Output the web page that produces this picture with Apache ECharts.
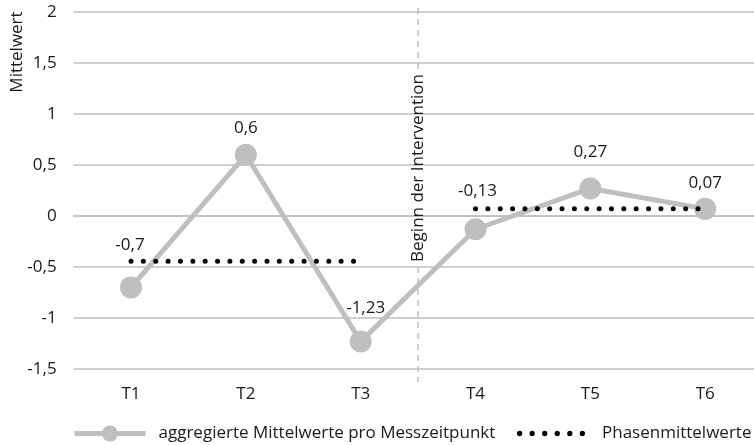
<!DOCTYPE html>
<html>
<head>
<meta charset="utf-8">
<script src="https://cdn.jsdelivr.net/npm/echarts@6/dist/echarts.min.js"></script>
<style>html,body{margin:0;padding:0;background:#fff}#c{width:754px;height:445px}</style>
</head>
<body>
<div id="c"></div>
<script>
const categories = ['T1', 'T2', 'T3', 'T4', 'T5', 'T6'];
const values = [-0.7, 0.6, -1.23, -0.13, 0.27, 0.07];
const phase1 = [-0.443, -0.443, -0.443, null, null, null];
const phase2 = [null, null, null, 0.07, 0.07, 0.07];
const yTicks = { min: -1.5, max: 2, interval: 0.5 };
const seriesNames = ['aggregierte Mittelwerte pro Messzeitpunkt', 'Phasenmittelwerte'];
const yName = 'Mittelwert';
const markerText = 'Beginn der Intervention';

// label placement (style only)
const labelOffsets = [[-1, -17], [0, -1], [5, -8], [2, -13], [0, -11], [0, 0]];

const FONT = 'Open Sans';
const FS = 17;
const TXT = '#1a1a1a';
const GRAY = '#BFBFBF';
const fmt = v => String(v).replace('.', ',');

const chart = echarts.init(document.getElementById('c'), null, { renderer: 'canvas' });

const mainData = values.map((v, i) => ({
  value: v,
  label: { offset: labelOffsets[i] }
}));

// six dots icon for the legend
const dotsPath = 'path://' + [0, 1, 2, 3, 4, 5].map(i => {
  const cx = 2.6 + i * 12.4, cy = 2.6, r = 2.6;
  return 'M' + (cx - r) + ' ' + cy + 'a' + r + ' ' + r + ' 0 1 0 ' + (2 * r) + ' 0a' + r + ' ' + r + ' 0 1 0 ' + (-2 * r) + ' 0Z';
}).join('');

const legendText = { fontSize: FS, fontFamily: FONT, color: TXT };

chart.setOption({
  animation: false,
  textStyle: { fontFamily: FONT, color: TXT },
  grid: { left: 73.6, width: 689, top: 12, bottom: 76, outerBoundsMode: 'none', containLabel: false },
  xAxis: {
    type: 'category',
    data: categories,
    boundaryGap: true,
    axisLine: { lineStyle: { color: GRAY, width: 1.5 } },
    axisTick: { show: false },
    axisLabel: { color: TXT, fontSize: FS, fontFamily: FONT, margin: 17 },
    splitLine: { show: false }
  },
  yAxis: {
    type: 'value',
    min: yTicks.min, max: yTicks.max, interval: yTicks.interval,
    axisLine: { show: false },
    axisTick: { show: false },
    axisLabel: { color: TXT, fontSize: FS, fontFamily: FONT, margin: 17, formatter: fmt },
    splitLine: { lineStyle: { color: GRAY, width: 1.5 } }
  },
  legend: [
    {
      top: 420, left: 67,
      itemWidth: 71, itemHeight: 20,
      textStyle: Object.assign({ padding: [0, 0, 0, 8] }, legendText),
      data: [{ name: seriesNames[0], itemStyle: { color: GRAY }, lineStyle: { color: GRAY, width: 5 } }]
    },
    {
      top: 420, left: 512,
      itemWidth: 68, itemHeight: 20,
      textStyle: Object.assign({ padding: [0, 0, 0, 12] }, legendText),
      data: [{ name: seriesNames[1], icon: dotsPath, itemStyle: { color: '#000' } }]
    }
  ],
  series: [
    {
      name: seriesNames[0],
      type: 'line',
      data: mainData,
      symbol: 'circle',
      symbolSize: 22,
      itemStyle: { color: GRAY },
      lineStyle: { color: GRAY, width: 5 },
      z: 3,
      label: {
        show: true, position: 'top', distance: 6,
        fontSize: FS, fontFamily: FONT, color: TXT,
        formatter: p => fmt(p.value)
      }
    },
    {
      name: seriesNames[1],
      type: 'line',
      data: phase1,
      symbol: 'none',
      itemStyle: { color: '#000' },
      lineStyle: { color: '#000', width: 5, type: [0.01, 12.35], cap: 'round' },
      z: 4
    },
    {
      name: seriesNames[1],
      type: 'line',
      data: phase2,
      symbol: 'none',
      itemStyle: { color: '#000' },
      lineStyle: { color: '#000', width: 5, type: [0.01, 12.35], cap: 'round' },
      z: 4
    }
  ]
});

// intervention marker between T3 and T4
const x3 = chart.convertToPixel({ xAxisIndex: 0 }, 'T3');
const x4 = chart.convertToPixel({ xAxisIndex: 0 }, 'T4');
const mx = (x3 + x4) / 2;
const yTop = chart.convertToPixel({ yAxisIndex: 0 }, yTicks.max);
const yBot = chart.convertToPixel({ yAxisIndex: 0 }, yTicks.min);
const textCenterY = 168;
const textHalf = 99;
const dash = { stroke: GRAY, lineWidth: 1.5, lineDash: [6, 5] };

chart.setOption({
  graphic: [
    { type: 'line', z: 1, shape: { x1: mx, y1: yTop - 4, x2: mx, y2: textCenterY - textHalf }, style: dash },
    { type: 'line', z: 1, shape: { x1: mx, y1: textCenterY + textHalf, x2: mx, y2: yBot + 13 }, style: dash },
    {
      type: 'text', z: 5, x: mx, y: textCenterY, rotation: Math.PI / 2,
      style: { text: markerText, fontSize: FS, fontFamily: FONT, fill: TXT, align: 'center', verticalAlign: 'middle' }
    },
    {
      type: 'text', x: 17, y: 52, rotation: Math.PI / 2,
      style: { text: yName, fontSize: FS, fontFamily: FONT, fill: TXT, align: 'center', verticalAlign: 'middle' }
    }
  ]
});
</script>
</body>
</html>
